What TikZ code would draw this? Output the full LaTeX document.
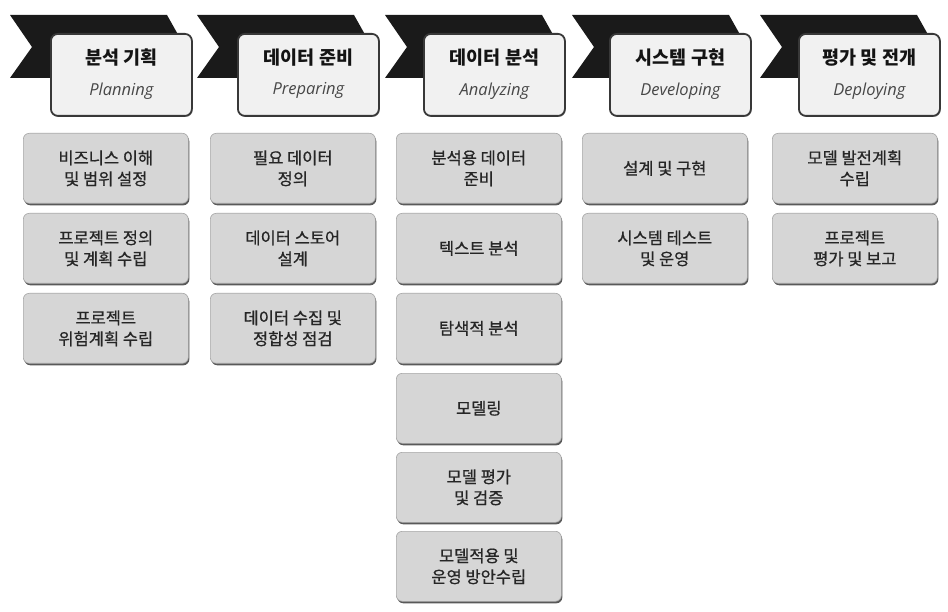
\documentclass[tikz,border=0pt]{standalone}
\usepackage{fontspec}
\setmainfont{Noto Sans CJK KR}
\newfontfamily\kobody[FakeBold=0.7]{Noto Sans CJK KR}
\newfontfamily\enfont{Open Sans}
\usetikzlibrary{shadows}
\definecolor{chev}{HTML}{1A1A1A}
\definecolor{cbox}{HTML}{D6D6D6}
\begin{document}
\begin{tikzpicture}[x=1pt,y=-1pt,
  chevron/.style={fill=chev},
  headbox/.style={draw=black!78, line width=1.8pt, rounded corners=7pt, fill=white, fill opacity=0.87, text opacity=1,
    minimum width=141pt, minimum height=82pt, anchor=north west, inner sep=0pt,
    drop shadow={shadow xshift=0.8pt, shadow yshift=-1pt, fill=black!40, opacity=1}},
  kohead/.style={font=\bfseries\fontsize{18.5}{20}\selectfont, text=black!92, inner sep=0pt},
  enhead/.style={font=\enfont\itshape\fontsize{16.5}{18}\selectfont, text=black!72, inner sep=0pt},
  taskbox/.style={draw=black!35, line width=0.6pt, rounded corners=6pt, fill=cbox,
    minimum width=165pt, minimum height=70pt, anchor=north west, align=center,
    font=\kobody\fontsize{16.5}{21}\selectfont, text=black!85,
    drop shadow={shadow xshift=1pt, shadow yshift=-2pt, fill=black!65, opacity=1}}]
\useasboundingbox (0,0) rectangle (948,612);
\fill[white] (0,0) rectangle (948,612);

% chevrons
\foreach \cx in {10,197,385,572,760}{
  \fill[chevron] (\cx,15) -- ++(157,0) -- ++(18,32) -- ++(-18,31) -- ++(-157,0) -- ++(22,-31) -- cycle;
}

% header boxes
\node[headbox] (hb1) at (50,33) {};
\node[headbox] (hb2) at (237,33) {};
\node[headbox] (hb3) at (423,33) {};
\node[headbox] (hb4) at (609,33) {};
\node[headbox] (hb5) at (798,33) {};

\node[kohead] (hk1) at ([yshift=17pt]hb1.center) {분석 기획};
\node[enhead] (he1) at ([yshift=-16pt]hb1.center) {Planning};
\node[kohead] (hk2) at ([yshift=17pt]hb2.center) {데이터 준비};
\node[enhead] (he2) at ([yshift=-16pt]hb2.center) {Preparing};
\node[kohead] (hk3) at ([yshift=17pt]hb3.center) {데이터 분석};
\node[enhead] (he3) at ([yshift=-16pt]hb3.center) {Analyzing};
\node[kohead] (hk4) at ([yshift=17pt]hb4.center) {시스템 구현};
\node[enhead] (he4) at ([yshift=-16pt]hb4.center) {Developing};
\node[kohead] (hk5) at ([yshift=17pt]hb5.center) {평가 및 전개};
\node[enhead] (he5) at ([yshift=-16pt]hb5.center) {Deploying};

% column 1
\node[taskbox] (t11) at (23,133) {비즈니스 이해\\및 범위 설정};
\node[taskbox] (t12) at (23,213) {프로젝트 정의\\및 계획 수립};
\node[taskbox] (t13) at (23,293) {프로젝트\\위험계획 수립};
% column 2
\node[taskbox] (t21) at (210,133) {필요 데이터\\정의};
\node[taskbox] (t22) at (210,213) {데이터 스토어\\설계};
\node[taskbox] (t23) at (210,293) {데이터 수집 및\\정합성 점검};
% column 3
\node[taskbox] (t31) at (396,133) {분석용 데이터\\준비};
\node[taskbox] (t32) at (396,213) {텍스트 분석};
\node[taskbox] (t33) at (396,293) {탐색적 분석};
\node[taskbox] (t34) at (396,373) {모델링};
\node[taskbox] (t35) at (396,452) {모델 평가\\및 검증};
\node[taskbox] (t36) at (396,531) {모델적용 및\\운영 방안수립};
% column 4
\node[taskbox] (t41) at (582,133) {설계 및 구현};
\node[taskbox] (t42) at (582,213) {시스템 테스트\\및 운영};
% column 5
\node[taskbox] (t51) at (772,133) {모델 발전계획\\수립};
\node[taskbox] (t52) at (772,213) {프로젝트\\평가 및 보고};
\end{tikzpicture}
\end{document}
